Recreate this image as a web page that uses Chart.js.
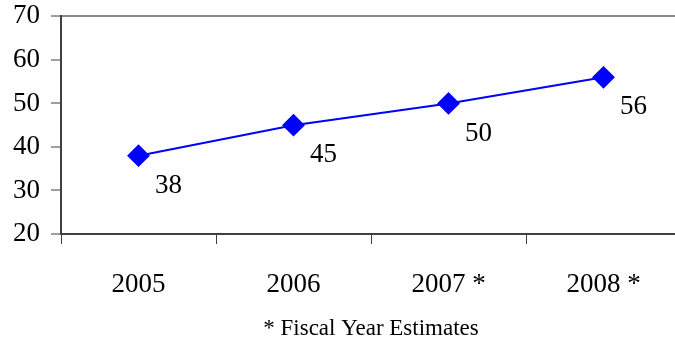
<!DOCTYPE html>
<html>
<head>
<meta charset="utf-8">
<script src="https://cdn.jsdelivr.net/npm/chart.js@4"></script>
<style>
  html, body { margin: 0; padding: 0; background: #fff; overflow: hidden; }
  #wrap { width: 693px; height: 343px; }
</style>
</head>
<body>
<div id="wrap"><canvas id="fyChart"></canvas></div>
<script>
const years = ['2005', '2006', '2007 *', '2008 *'];
const values = [38, 45, 50, 56];
const yTicks = [20, 30, 40, 50, 60, 70];

const serif = '"Liberation Serif", "Times New Roman", serif';

// value labels sit below and to the right of each marker
const pointLabels = {
    id: 'pointLabels',
    afterDatasetsDraw(chart) {
        const ctx = chart.ctx;
        const meta = chart.getDatasetMeta(0);
        ctx.save();
        ctx.font = '27px ' + serif;
        ctx.fillStyle = '#000';
        ctx.textAlign = 'center';
        ctx.textBaseline = 'middle';
        meta.data.forEach((pt, i) => {
            ctx.fillText(String(values[i]), pt.x + 30, pt.y + 30);
        });
        ctx.restore();
    }
};

new Chart(document.getElementById('fyChart'), {
    type: 'line',
    data: {
        labels: years,
        datasets: [{
            data: values,
            borderColor: '#0000ff',
            backgroundColor: '#0000ff',
            borderWidth: 2,
            pointStyle: 'rectRot',
            pointRadius: 10,
            pointHoverRadius: 10,
            tension: 0
        }]
    },
    options: {
        responsive: true,
        maintainAspectRatio: false,
        animation: false,
        events: [],
        layout: { padding: { left: 2, top: 0, right: 0, bottom: 0 } },
        plugins: {
            legend: { display: false },
            tooltip: { enabled: false },
            title: {
                display: true,
                fullSize: false,
                position: 'bottom',
                text: '* Fiscal Year Estimates',
                color: '#000',
                font: { family: serif, size: 23, weight: 'normal' },
                padding: { top: -10, bottom: 0 }
            }
        },
        scales: {
            x: {
                offset: true,
                grid: {
                    offset: true,
                    drawOnChartArea: false,
                    tickLength: 10,
                    tickColor: '#404040',
                    tickWidth: 1
                },
                border: { color: '#404040', width: 2 },
                ticks: {
                    color: '#000',
                    padding: 24.5,
                    font: { family: serif, size: 27 }
                }
            },
            y: {
                min: 20,
                max: 70,
                afterBuildTicks: axis => { axis.ticks = yTicks.map(v => ({ value: v })); },
                grid: {
                    color: c => c.tick && c.tick.value === 70 ? '#888888' : 'rgba(0,0,0,0)',
                    lineWidth: 2,
                    tickLength: 10,
                    tickColor: '#404040',
                    tickWidth: 1
                },
                border: { color: '#404040', width: 2 },
                ticks: {
                    color: '#000',
                    padding: 11,
                    font: { family: serif, size: 27, lineHeight: 0.4 }
                }
            }
        }
    },
    plugins: [pointLabels]
});
</script>
</body>
</html>
